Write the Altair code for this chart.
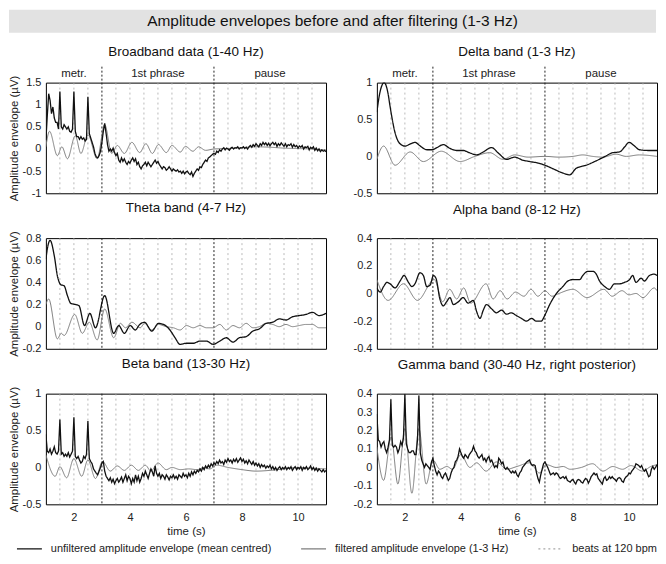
import altair as alt
import pandas as pd

FONT = "Liberation Sans"
MAIN_TITLE = "Amplitude envelopes before and after filtering (1-3 Hz)"
Y_TITLE = "Amplitude envelope (µV)"
X_TITLE = "time (s)"

SERIES = ["unfiltered amplitude envelope (mean centred)",
          "filtered amplitude envelope (1-3 Hz)",
          "beats at 120 bpm"]
SERIES_COLORS = ["#111111", "#7d7d7d", "#a8a8a8"]

X_DOMAIN = [1, 11]
X_TICKS = [2, 4, 6, 8, 10]
BEATS = [1.5, 2, 2.5, 3.5, 4, 4.5, 5, 5.5, 6, 6.5, 7.5, 8, 8.5, 9, 9.5, 10, 10.5]
PHASE_BOUNDS = [3, 7]
PHASE_LABELS = ["metr.", "1st phrase", "pause"]
PHASE_CENTRES = [2, 5, 9]

# ---------------- Broadband (1-40 Hz) ----------------
BB_RAW = [
    # 1.0
    0.20, 0.75, 1.25, 1.10, 0.80, 0.95, 0.70, 0.60, 0.60, 0.45,
    # 1.5
    1.30, 0.50, 0.45, 0.55, 0.50, 0.45, 0.50, 0.40, 0.38, 0.45,
    # 2.0
    1.30, 0.40, 0.28, 0.28, 0.22, 0.28, 0.22, 0.25, 0.18, 0.22,
    # 2.5
    1.18, 0.35, 0.25, 0.15, 0.05, -0.10, -0.18, -0.20, -0.15, -0.05,
    # 3.0
    0.15, 0.40, 0.58, 0.35, 0.10, -0.05, 0.00, -0.05, 0.02, -0.08,
    # 3.5
    -0.15, -0.10, -0.25, -0.30, -0.20, -0.28, -0.22, -0.30, -0.35, -0.28,
    # 4.0
    -0.32, -0.25, -0.20, -0.28, -0.22, -0.35, -0.30, -0.40, -0.45, -0.38,
    # 4.5
    -0.35, -0.30, -0.38, -0.30, -0.35, -0.40, -0.35, -0.30, -0.25, -0.32,
    # 5.0
    -0.28, -0.35, -0.40, -0.45, -0.40, -0.42, -0.48, -0.45, -0.40, -0.45,
    # 5.5
    -0.50, -0.45, -0.48, -0.50, -0.47, -0.52, -0.50, -0.55, -0.50, -0.56,
    # 6.0
    -0.52, -0.50, -0.55, -0.58, -0.52, -0.62, -0.55, -0.50, -0.45, -0.48,
    # 6.5
    -0.40, -0.42, -0.35, -0.30, -0.25, -0.28, -0.20, -0.18, -0.15, -0.12,
    # 7.0
    -0.10, -0.12, -0.05, -0.08, -0.02, -0.05, 0.00, 0.03, -0.02, 0.02,
    # 7.5
    0.00, -0.03, 0.02, 0.04, 0.00, 0.03, 0.02, 0.05, 0.00, 0.03,
    # 8.0
    0.02, 0.05, 0.01, 0.04, 0.00, 0.05, 0.08, 0.04, 0.10, 0.06,
    # 8.5
    0.12, 0.08, 0.05, 0.12, 0.08, 0.15, 0.10, 0.14, 0.08, 0.13,
    # 9.0
    0.07, 0.12, 0.15, 0.10, 0.14, 0.06, 0.12, 0.08, 0.14, 0.10,
    # 9.5
    0.06, 0.12, 0.05, 0.10, 0.08, 0.12, 0.04, 0.10, 0.05, 0.08,
    # 10.0
    0.02, 0.07, 0.04, 0.08, 0.00, 0.05, 0.03, 0.06, -0.02, 0.04,
    # 10.5
    0.01, 0.05, -0.03, 0.02, -0.04, 0.00, -0.06, -0.02, -0.05, -0.03,
    # 11.0
    -0.06,
]
BB_FILT_T = [1.0, 1.13, 1.41, 1.57, 1.77, 2.05, 2.25, 2.5, 2.83, 3.1, 3.35, 3.55, 3.8,
             4.07, 4.35, 4.57, 4.8, 5.02, 5.3, 5.5, 5.8, 5.98, 6.25, 6.45, 6.7, 7.0,
             7.5, 8.0, 8.5, 9.0, 9.5, 10.0, 10.5, 11.0]
BB_FILT_V = [0.05, 0.4, -0.15, 0.05, -0.22, 0.3, -0.1, 0.32, -0.22, 0.55, -0.1, 0.08, -0.1,
             0.15, -0.08, 0.12, -0.1, 0.1, -0.08, 0.08, -0.07, 0.06, -0.05, 0.05, -0.03, 0.0,
             0.01, 0.03, 0.05, 0.04, 0.02, 0.01, 0.0, -0.02]

# ---------------- Delta (1-3 Hz) ----------------
DELTA_RAW_T = [1.0, 1.1, 1.26, 1.4, 1.47, 1.65, 1.83, 2.01, 2.2, 2.36, 2.55, 2.78, 2.96,
               3.15, 3.37, 3.6, 3.85, 4.08, 4.3, 4.56, 4.8, 5.09, 5.35, 5.63, 5.92, 6.2,
               6.46, 6.75, 7.0, 7.3, 7.6, 7.88, 8.12, 8.47, 8.83, 9.15, 9.42, 9.66, 9.85,
               10.0, 10.2, 10.37, 10.7, 11.0]
DELTA_RAW_V = [0.6, 0.85, 1.0, 0.85, 0.68, 0.32, 0.17, 0.14, 0.17, 0.19, 0.14, 0.09, 0.09,
               0.12, 0.16, 0.11, 0.08, 0.08, 0.05, 0.02, 0.06, 0.12, 0.04, -0.04, -0.01, -0.05,
               -0.07, -0.09, -0.12, -0.17, -0.22, -0.25, -0.16, -0.12, -0.06, 0.0, 0.05, 0.06, 0.13,
               0.19, 0.14, 0.09, 0.08, 0.08]
DELTA_FILT_T = [1.0, 1.24, 1.65, 2.19, 2.66, 3.3, 3.97, 4.5, 5.03, 5.5, 5.92, 6.4, 7.0,
                7.5, 8.0, 8.35, 8.7, 9.07, 9.54, 9.9, 10.37, 11.0]
DELTA_FILT_V = [-0.04, 0.14, -0.12, 0.06, -0.07, 0.07, -0.07, 0.0, 0.05, -0.04, 0.02, -0.01, 0.0,
                -0.01, 0.0, 0.02, 0.0, -0.01, 0.03, 0.0, 0.02, 0.0]

# ---------------- Theta (4-7 Hz) ----------------
THETA_RAW_T = [1.0, 1.08, 1.15, 1.3, 1.41, 1.53, 1.65, 1.77, 1.89, 2.06, 2.18, 2.38, 2.57,
               2.77, 3.1, 3.42, 3.6, 3.8, 4.01, 4.19, 4.35, 4.52, 4.78, 5.02, 5.2, 5.43,
               5.61, 5.79, 6.02, 6.26, 6.5, 6.73, 6.97, 7.21, 7.44, 7.68, 7.91, 8.15, 8.39,
               8.62, 8.86, 9.1, 9.33, 9.57, 9.81, 10.04, 10.28, 10.52, 10.75, 11.0]
THETA_RAW_V = [0.61, 0.74, 0.78, 0.64, 0.46, 0.38, 0.37, 0.28, 0.21, 0.2, 0.19, 0.01, 0.12,
               -0.01, 0.28, -0.06, 0.01, -0.06, 0.01, -0.03, 0.02, 0.04, -0.04, 0.03, 0.02, -0.03,
               -0.1, -0.16, -0.15, -0.15, -0.13, -0.13, -0.16, -0.13, -0.1, -0.14, -0.1, -0.09, -0.04,
               -0.02, 0.03, 0.04, 0.07, 0.06, 0.09, 0.1, 0.11, 0.13, 0.1, 0.12]
THETA_FILT_T = [1.0, 1.1, 1.41, 1.55, 1.65, 2.03, 2.3, 2.55, 2.83, 3.1, 3.42, 3.66, 3.84,
                4.07, 4.37, 4.52, 4.78, 5.02, 5.3, 5.55, 5.79, 6.02, 6.26, 6.5, 6.73, 6.97,
                7.21, 7.44, 7.68, 7.91, 8.15, 8.39, 8.62, 8.86, 9.1, 9.33, 9.57, 9.81, 10.04,
                10.28, 10.52, 10.75, 11.0]
THETA_FILT_V = [0.2, 0.25, -0.11, -0.06, -0.08, 0.11, -0.06, 0.04, -0.12, 0.16, -0.1, 0.03, -0.01,
                0.04, -0.01, 0.03, -0.03, 0.02, 0.0, -0.01, -0.03, 0.01, -0.01, 0.01, -0.01, -0.01,
                0.02, -0.03, 0.01, -0.01, 0.03, -0.01, 0.0, 0.03, 0.02, 0.0, 0.02, 0.0, 0.01,
                0.02, 0.02, -0.01, -0.01]

# ---------------- Alpha (8-12 Hz) ----------------
ALPHA_RAW_T = [1.0, 1.12, 1.24, 1.36, 1.47, 1.65, 1.83, 1.97, 2.13, 2.25, 2.36, 2.54, 2.66,
               2.78, 2.9, 3.02, 3.11, 3.25, 3.37, 3.49, 3.61, 3.73, 3.91, 4.08, 4.26, 4.44,
               4.56, 4.68, 4.8, 4.91, 5.09, 5.27, 5.45, 5.63, 5.8, 5.98, 6.16, 6.34, 6.52,
               6.69, 6.87, 6.99, 7.17, 7.41, 7.64, 7.82, 8.0, 8.24, 8.35, 8.53, 8.71, 8.83,
               8.95, 9.13, 9.3, 9.48, 9.66, 9.84, 10.02, 10.13, 10.25, 10.43, 10.55, 10.73,
               10.9, 11.0]
ALPHA_RAW_V = [0.04, 0.01, 0.05, 0.08, 0.07, 0.04, 0.09, 0.13, 0.08, 0.05, 0.07, 0.15, 0.13,
               0.05, 0.06, 0.13, 0.11, -0.04, -0.09, -0.06, -0.03, -0.08, -0.06, -0.03, -0.07, -0.05,
               -0.13, -0.18, -0.12, -0.08, -0.11, -0.14, -0.12, -0.15, -0.14, -0.16, -0.18, -0.2, -0.18,
               -0.2, -0.2, -0.16, -0.08, 0.0, 0.05, 0.09, 0.1, 0.1, 0.13, 0.16, 0.16, 0.14,
               0.09, 0.05, 0.03, 0.07, 0.07, 0.08, 0.1, 0.13, 0.08, 0.11, 0.09, 0.13,
               0.14, 0.13]
ALPHA_FILT_T = [1.0, 1.4, 1.95, 2.45, 3.05, 3.35, 3.6, 3.85, 4.1, 4.35, 4.9, 5.15, 5.4,
                5.65, 5.95, 6.25, 6.5, 6.75, 7.0, 7.25, 7.5, 8.0, 8.5, 9.1, 9.4, 9.75,
                10.0, 10.25, 10.5, 10.9, 11.0]
ALPHA_FILT_V = [0.1, -0.05, 0.07, -0.05, 0.1, -0.06, 0.03, -0.04, 0.04, -0.07, 0.07, -0.04, 0.02,
                -0.04, 0.01, -0.02, 0.03, -0.02, 0.02, -0.02, 0.0, 0.03, -0.03, 0.03, -0.02, 0.02,
                -0.01, 0.0, -0.03, 0.04, 0.02]

# ---------------- Beta (13-30 Hz) ----------------
BETA_RAW = [
    # 1.0
    0.45, 0.22, 0.20, 0.25, 0.18, 0.22, 0.28, 0.20, 0.18, 0.22,
    # 1.5
    0.65, 0.18, 0.20, 0.15, 0.18, 0.15, 0.20, 0.14, 0.18, 0.22,
    # 2.0
    0.68, 0.15, 0.12, 0.15, 0.10, 0.06, 0.08, 0.15, 0.12, 0.18,
    # 2.5
    0.63, 0.12, 0.08, 0.05, -0.02, -0.05, -0.08, -0.10, -0.05, 0.00,
    # 3.0
    0.06, 0.08, -0.05, -0.12, -0.15, -0.18, -0.14, -0.20, -0.16, -0.22,
    # 3.5
    -0.18, -0.15, -0.20, -0.17, -0.13, -0.20, -0.15, -0.10, -0.18, -0.12,
    # 4.0
    -0.15, -0.22, -0.15, -0.20, -0.10, -0.18, -0.12, -0.20, -0.15, -0.08,
    # 4.5
    -0.12, -0.05, -0.10, -0.15, -0.08, -0.02, -0.06, -0.12, 0.02, -0.08,
    # 5.0
    -0.12, -0.08, -0.15, -0.10, -0.12, -0.16, -0.10, -0.13, -0.17, -0.12,
    # 5.5
    -0.14, -0.10, -0.15, -0.12, -0.16, -0.10, -0.12, -0.14, -0.08, -0.12,
    # 6.0
    -0.10, -0.14, -0.08, -0.12, -0.06, -0.10, -0.05, -0.08, -0.04, -0.06,
    # 6.5
    -0.02, -0.05, 0.00, -0.03, 0.02, -0.01, 0.03, 0.00, 0.05, 0.02,
    # 7.0
    0.06, 0.04, 0.08, 0.05, 0.10, 0.06, 0.08, 0.04, 0.10, 0.07,
    # 7.5
    0.12, 0.08, 0.10, 0.06, 0.11, 0.08, 0.12, 0.07, 0.10, 0.13,
    # 8.0
    0.08, 0.11, 0.06, 0.09, 0.05, 0.10, 0.07, 0.04, 0.08, 0.03,
    # 8.5
    0.06, 0.02, 0.05, 0.00, 0.04, 0.01, 0.03, -0.01, 0.02, 0.00,
    # 9.0
    0.03, -0.02, 0.01, -0.03, 0.00, -0.04, -0.01, 0.01, -0.03, 0.00,
    # 9.5
    -0.02, 0.01, -0.03, 0.00, -0.02, 0.01, -0.04, -0.01, 0.01, -0.03,
    # 10.0
    0.00, -0.02, 0.01, -0.04, 0.00, -0.02, 0.01, -0.03, -0.01, 0.02,
    # 10.5
    -0.03, 0.00, -0.04, -0.01, -0.05, -0.02, -0.04, -0.06, -0.03, -0.06,
    # 11.0
    -0.04,
]
BETA_FILT_T = [1.0, 1.33, 1.5, 1.74, 2.0, 2.28, 2.5, 2.77, 3.02, 3.3, 3.55, 3.8, 4.05,
               4.3, 4.55, 4.75, 5.0, 5.3, 5.5, 5.8, 6.1, 6.4, 6.65, 6.85, 7.1, 7.5,
               8.0, 8.5, 9.0, 9.5, 10.0, 10.5, 11.0]
BETA_FILT_V = [0.17, -0.12, 0.01, -0.14, 0.12, -0.12, 0.1, -0.15, 0.08, -0.05, 0.02, -0.04, 0.03,
               -0.04, 0.03, -0.05, 0.06, -0.03, 0.0, -0.03, -0.02, -0.03, 0.0, -0.02, 0.03, 0.0,
               -0.03, -0.05, -0.04, -0.02, 0.0, -0.01, -0.02]

# ---------------- Gamma (30-40 Hz, right posterior) ----------------
GAMMA_RAW = [
    # 1.0
    0.29, 0.15, 0.14, 0.11, 0.13, 0.14, 0.10, 0.08, 0.11, 0.15,
    # 1.5
    0.37, 0.12, 0.11, 0.12, 0.11, 0.08, 0.10, 0.14, 0.12, 0.16,
    # 2.0
    0.40, 0.13, 0.10, 0.08, 0.08, 0.09, 0.09, 0.07, 0.07, 0.15,
    # 2.5
    0.39, 0.08, 0.04, 0.02, 0.00, 0.02, 0.01, 0.00, -0.01, 0.03,
    # 3.0
    0.05, 0.01, -0.02, -0.04, -0.02, -0.03, -0.05, -0.06, -0.04, -0.03,
    # 3.5
    -0.05, -0.07, -0.06, -0.03, -0.01, 0.00, 0.03, 0.04, 0.06, 0.10,
    # 4.0
    0.08, 0.06, 0.05, 0.07, 0.06, 0.05, 0.07, 0.08, 0.09, 0.115,
    # 4.5
    0.09, 0.08, 0.06, 0.05, 0.06, 0.07, 0.04, 0.05, 0.03, 0.05,
    # 5.0
    0.06, 0.03, 0.04, 0.02, 0.00, 0.01, 0.00, 0.05, 0.04, 0.02,
    # 5.5
    0.03, 0.00, -0.01, 0.00, -0.01, -0.02, -0.03, -0.02, -0.03, -0.02,
    # 6.0
    -0.04, -0.05, -0.03, -0.02, 0.00, 0.01, 0.02, 0.03, 0.035, 0.04,
    # 6.5
    0.02, 0.01, 0.015, 0.01, -0.03, -0.06, -0.08, -0.04, -0.01, 0.02,
    # 7.0
    0.03, 0.015, 0.00, -0.02, -0.04, -0.035, -0.03, -0.04, -0.03, -0.035,
    # 7.5
    -0.05, -0.06, -0.055, -0.05, -0.06, -0.05, -0.07, -0.075, -0.08, -0.07,
    # 8.0
    -0.065, -0.08, -0.09, -0.07, -0.065, -0.07, -0.08, -0.085, -0.07, -0.06,
    # 8.5
    -0.065, -0.085, -0.07, -0.05, -0.04, -0.03, -0.04, -0.035, -0.06, -0.07,
    # 9.0
    -0.08, -0.09, -0.06, -0.05, -0.07, -0.065, -0.05, -0.06, -0.05, -0.06,
    # 9.5
    -0.065, -0.075, -0.06, -0.055, -0.06, -0.075, -0.08, -0.06, -0.05, -0.045,
    # 10.0
    -0.03, -0.035, -0.02, -0.01, 0.00, 0.02, 0.015, 0.01, 0.00, 0.01,
    # 10.5
    -0.01, -0.02, -0.01, -0.03, -0.05, -0.045, -0.01, 0.005, -0.01, 0.00,
    # 11.0
    0.015,
]
GAMMA_FILT_T = [1.0, 1.24, 1.51, 1.75, 2.0, 2.25, 2.5, 2.76, 3.0, 3.25, 3.5, 3.7, 4.0,
                4.32, 4.56, 4.9, 5.27, 5.63, 6.0, 6.46, 6.8, 7.05, 7.4, 7.65, 7.9, 8.3,
                8.7, 9.07, 9.42, 9.77, 10.07, 10.48, 10.78, 11.0]
GAMMA_FILT_V = [0.11, -0.07, 0.165, -0.09, 0.21, -0.14, 0.21, -0.09, 0.04, -0.01, 0.005, -0.01, 0.07,
                0.0, 0.025, -0.02, 0.03, -0.01, 0.005, 0.025, -0.03, 0.015, 0.0, 0.005, -0.01, 0.0,
                0.02, -0.02, 0.005, -0.01, 0.01, -0.02, 0.005, 0.015]


def grid_times(values, start=1.0, step=0.05):
    return [round(start + step * i, 2) for i in range(len(values))]


PANELS = [
    dict(title="Broadband data (1-40 Hz)", raw_t=grid_times(BB_RAW), raw_v=BB_RAW,
         filt_t=BB_FILT_T, filt_v=BB_FILT_V, ydom=[-1, 1.5],
         yticks=[-1, -0.5, 0, 0.5, 1, 1.5], raw_interp="linear"),
    dict(title="Delta band (1-3 Hz)", raw_t=DELTA_RAW_T, raw_v=DELTA_RAW_V,
         filt_t=DELTA_FILT_T, filt_v=DELTA_FILT_V, ydom=[-0.5, 1],
         yticks=[-0.5, 0, 0.5, 1], raw_interp="monotone"),
    dict(title="Theta band (4-7 Hz)", raw_t=THETA_RAW_T, raw_v=THETA_RAW_V,
         filt_t=THETA_FILT_T, filt_v=THETA_FILT_V, ydom=[-0.2, 0.8],
         yticks=[-0.2, 0, 0.2, 0.4, 0.6, 0.8], raw_interp="monotone"),
    dict(title="Alpha band (8-12 Hz)", raw_t=ALPHA_RAW_T, raw_v=ALPHA_RAW_V,
         filt_t=ALPHA_FILT_T, filt_v=ALPHA_FILT_V, ydom=[-0.4, 0.4],
         yticks=[-0.4, -0.2, 0, 0.2, 0.4], raw_interp="monotone"),
    dict(title="Beta band (13-30 Hz)", raw_t=grid_times(BETA_RAW), raw_v=BETA_RAW,
         filt_t=BETA_FILT_T, filt_v=BETA_FILT_V, ydom=[-0.5, 1],
         yticks=[-0.5, 0, 0.5, 1], raw_interp="linear"),
    dict(title="Gamma band (30-40 Hz, right posterior)", raw_t=grid_times(GAMMA_RAW), raw_v=GAMMA_RAW,
         filt_t=GAMMA_FILT_T, filt_v=GAMMA_FILT_V, ydom=[-0.2, 0.4],
         yticks=[-0.2, -0.1, 0, 0.1, 0.2, 0.3, 0.4], raw_interp="linear"),
]

W, H = 281, 111
LEFT_EXTENT = 37          # y labels + y title to the left of the left plots
TITLE_W = 612             # title band width measured from the plot's left edge

LEGEND = alt.Legend(title=None, orient="none", direction="horizontal",
                    legendX=-30, legendY=527, labelLimit=400)
COLOR = alt.Color("series:N", scale=alt.Scale(domain=SERIES, range=SERIES_COLORS), legend=LEGEND)
DASH = alt.StrokeDash("series:N", scale=alt.Scale(domain=SERIES, range=[[1, 0], [1, 0], [2, 3]]),
                      legend=LEGEND)


def make_panel(i, p):
    row, col = divmod(i, 2)
    top, bottom, left = row == 0, row == 2, col == 0
    xscale = alt.Scale(domain=X_DOMAIN, nice=False, zero=False)
    yscale = alt.Scale(domain=p["ydom"], nice=False, zero=False)
    if bottom:
        xaxis = alt.Axis(values=X_TICKS, title=X_TITLE, labelExpr="toString(datum.value)",
                         ticks=False, domain=False, grid=False, labelPadding=7, titlePadding=3)
    else:
        xaxis = None
    ykw = dict(values=p["yticks"], labelExpr="toString(datum.value)", ticks=False,
               domain=False, grid=False, labelPadding=5)
    if left:
        yaxis = alt.Axis(title=Y_TITLE, minExtent=22, maxExtent=22, titlePadding=4, **ykw)
    else:
        yaxis = alt.Axis(title=None, **ykw)
    X = alt.X("t:Q", scale=xscale, axis=xaxis)
    Y = alt.Y("v:Q", scale=yscale, axis=yaxis)

    beats = alt.Chart(pd.DataFrame({"t": BEATS, "series": SERIES[2]})).mark_rule(
        strokeWidth=0.8).encode(x=X, color=COLOR, strokeDash=DASH)
    bounds_df = pd.DataFrame({"t": PHASE_BOUNDS})
    if top:
        phase = alt.Chart(bounds_df).mark_rule(color="#222222", strokeDash=[2, 2], strokeWidth=1).encode(
            x=X, y=alt.value(-16), y2=alt.value(H))
    else:
        phase = alt.Chart(bounds_df).mark_rule(color="#222222", strokeDash=[2, 2], strokeWidth=1).encode(x=X)
    filt = alt.Chart(pd.DataFrame({"t": p["filt_t"], "v": p["filt_v"], "series": SERIES[1]})).mark_line(
        strokeWidth=1.0, interpolate="monotone", clip=True).encode(x=X, y=Y, color=COLOR, strokeDash=DASH)
    raw = alt.Chart(pd.DataFrame({"t": p["raw_t"], "v": p["raw_v"], "series": SERIES[0]})).mark_line(
        strokeWidth=1.3, interpolate=p["raw_interp"], clip=True).encode(x=X, y=Y, color=COLOR, strokeDash=DASH)
    layers = [beats, phase]
    if top:
        labels = alt.Chart(pd.DataFrame({"t": PHASE_CENTRES, "label": PHASE_LABELS})).mark_text(
            font=FONT, fontSize=11.5, color="#222222", baseline="middle").encode(
            x=X, y=alt.value(-9), text="label:N")
        layers.append(labels)
    layers += [filt, raw]
    return alt.layer(*layers).properties(
        width=W, height=H,
        title=alt.TitleParams(p["title"], fontSize=13.5, font=FONT, fontWeight="normal",
                              color="#111111", frame="group", anchor="middle",
                              offset=8 if top else 16))


panels = [make_panel(i, p) for i, p in enumerate(PANELS)]
grid = alt.concat(*panels, columns=2, spacing={"row": 45, "column": 51},
                  align="each", bounds="flush")

title_df = pd.DataFrame({"label": [MAIN_TITLE]})
title_band = alt.Chart(title_df).mark_rect(color="#e2e2e2").encode(
    x=alt.value(-LEFT_EXTENT), x2=alt.value(TITLE_W), y=alt.value(0), y2=alt.value(23))
title_text = alt.Chart(title_df).mark_text(
    font=FONT, fontSize=15.5, color="#111111", baseline="middle").encode(
    text="label:N", x=alt.value((TITLE_W - LEFT_EXTENT) / 2), y=alt.value(11.5))
title_chart = alt.layer(title_band, title_text).properties(
    width=TITLE_W, height=23, view=alt.ViewBackground(stroke="transparent"))

chart = alt.vconcat(title_chart, grid, spacing=10).properties(padding=0).configure(
    font=FONT).configure_view(stroke="#000000", strokeWidth=1).configure_axis(
    labelFont=FONT, titleFont=FONT, labelFontSize=11, titleFontSize=11.5,
    labelColor="#222222", titleColor="#222222", titleFontWeight="normal").configure_legend(
    labelFont=FONT, labelFontSize=11, labelColor="#222222", symbolType="stroke",
    symbolSize=625, symbolStrokeWidth=1.3, labelOffset=8, columnPadding=26)

chart.save("out.html", embed_options={"renderer": "svg", "actions": False})
